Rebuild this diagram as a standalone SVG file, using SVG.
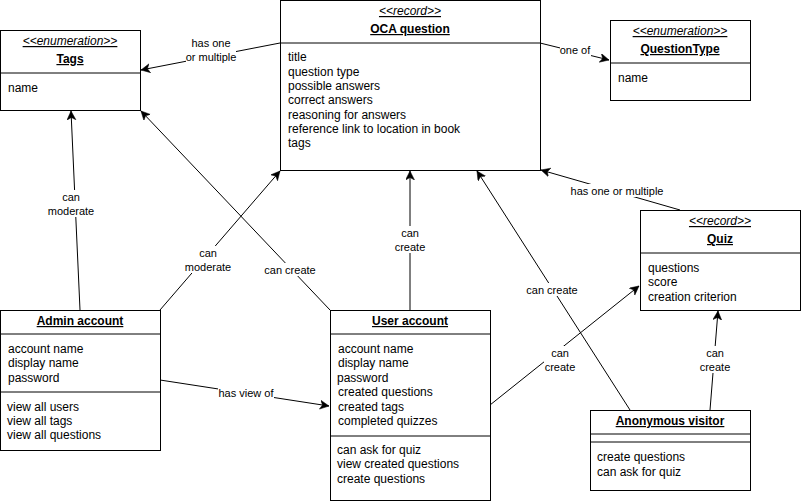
<svg xmlns="http://www.w3.org/2000/svg" width="801" height="501" viewBox="0 0 801 501">
  <style>
    text { font-family: "Liberation Sans", Arial, sans-serif; font-size: 12px; fill: #000; }
    .c { text-anchor: middle; }
    .lb { font-size: 11px; }
    .st { font-style: italic; text-decoration: underline; }
    .nm { font-weight: bold; text-decoration: underline; }
    .box { fill: #fff; stroke: #000; stroke-width: 1; }
    .div { stroke: #000; stroke-width: 1; }
    .edge { fill: none; stroke: #000; stroke-width: 1; }
    .lbg { fill: #fff; }
  </style>
  <defs>
    <marker id="arrow" markerUnits="userSpaceOnUse" markerWidth="12" markerHeight="12" refX="9" refY="4.5" orient="auto">
      <path d="M0,0 L9,4.5 L0,9 L2.5,4.5 Z" fill="#000" stroke="#000" stroke-width="0.5"/>
    </marker>
  </defs>

  <rect width="801" height="501" fill="#fff"/>

  <!-- connectors -->
  <g id="connectors">
    <line class="edge" x1="280" y1="43" x2="141" y2="70" marker-end="url(#arrow)"/>
    <line class="edge" x1="540" y1="43" x2="609" y2="60" marker-end="url(#arrow)"/>
    <line class="edge" x1="80" y1="310" x2="71" y2="111" marker-end="url(#arrow)"/>
    <line class="edge" x1="160" y1="310" x2="280" y2="171" marker-end="url(#arrow)"/>
    <line class="edge" x1="330" y1="310" x2="141" y2="111" marker-end="url(#arrow)"/>
    <line class="edge" x1="410" y1="310" x2="410" y2="171" marker-end="url(#arrow)"/>
    <line class="edge" x1="160" y1="380" x2="329" y2="406" marker-end="url(#arrow)"/>
    <line class="edge" x1="490" y1="405" x2="639" y2="286" marker-end="url(#arrow)"/>
    <line class="edge" x1="630" y1="410" x2="477" y2="171" marker-end="url(#arrow)"/>
    <line class="edge" x1="710" y1="410" x2="718" y2="311" marker-end="url(#arrow)"/>
    <line class="edge" x1="680" y1="210" x2="541" y2="170" marker-end="url(#arrow)"/>

    <!-- edge labels -->
    <rect class="lbg" x="186" y="37" width="50" height="27"/>
    <text class="c lb" x="211" y="47">has one</text>
    <text class="c lb" x="211" y="61">or multiple</text>

    <rect class="lbg" x="560" y="44" width="31" height="13"/>
    <text class="c lb" x="575" y="54">one of</text>

    <rect class="lbg" x="47" y="190" width="48" height="27"/>
    <text class="c lb" x="71" y="201">can</text>
    <text class="c lb" x="71" y="215">moderate</text>

    <rect class="lbg" x="184" y="246" width="48" height="27"/>
    <text class="c lb" x="208" y="257">can</text>
    <text class="c lb" x="208" y="271">moderate</text>

    <rect class="lbg" x="265" y="263" width="51" height="13"/>
    <text class="c lb" x="290" y="274">can create</text>

    <rect class="lbg" x="394" y="226" width="32" height="27"/>
    <text class="c lb" x="410" y="237">can</text>
    <text class="c lb" x="410" y="251">create</text>

    <rect class="lbg" x="218" y="387" width="56" height="13"/>
    <text class="c lb" x="246" y="397">has view of</text>

    <rect class="lbg" x="544" y="346" width="32" height="27"/>
    <text class="c lb" x="560" y="357">can</text>
    <text class="c lb" x="560" y="371">create</text>

    <rect class="lbg" x="527" y="283" width="51" height="13"/>
    <text class="c lb" x="552" y="294">can create</text>

    <rect class="lbg" x="699" y="346" width="32" height="27"/>
    <text class="c lb" x="715" y="357">can</text>
    <text class="c lb" x="715" y="371">create</text>

    <rect class="lbg" x="571" y="184" width="93" height="13"/>
    <text class="c lb" x="617" y="195">has one or multiple</text>
  </g>

  <!-- Tags -->
  <g id="tags">
    <rect class="box" x="0.5" y="30.5" width="140" height="80"/>
    <line class="div" x1="0.5" y1="73" x2="140.5" y2="73"/>
    <text class="c st" x="70" y="45">&lt;&lt;enumeration&gt;&gt;</text>
    <text class="c nm" x="70" y="63">Tags</text>
    <text x="8" y="92">name</text>
  </g>

  <!-- OCA question -->
  <g id="oca-question">
    <rect class="box" x="280.5" y="0.5" width="260" height="170"/>
    <line class="div" x1="280.5" y1="43" x2="540.5" y2="43"/>
    <text class="c st" x="410" y="15">&lt;&lt;record&gt;&gt;</text>
    <text class="c nm" x="410" y="33">OCA question</text>
    <text x="288" y="61">title</text>
    <text x="288" y="76">question type</text>
    <text x="288" y="90">possible answers</text>
    <text x="288" y="104">correct answers</text>
    <text x="288" y="119">reasoning for answers</text>
    <text x="288" y="133">reference link to location in book</text>
    <text x="288" y="147">tags</text>
  </g>

  <!-- QuestionType -->
  <g id="question-type">
    <rect class="box" x="610.5" y="20.5" width="140" height="80"/>
    <line class="div" x1="610.5" y1="63" x2="750.5" y2="63"/>
    <text class="c st" x="680" y="35">&lt;&lt;enumeration&gt;&gt;</text>
    <text class="c nm" x="680" y="53">QuestionType</text>
    <text x="618" y="82">name</text>
  </g>

  <!-- Quiz -->
  <g id="quiz">
    <rect class="box" x="640.5" y="210.5" width="160" height="100"/>
    <line class="div" x1="640.5" y1="253" x2="800.5" y2="253"/>
    <text class="c st" x="720" y="225">&lt;&lt;record&gt;&gt;</text>
    <text class="c nm" x="720" y="243">Quiz</text>
    <text x="648" y="272">questions</text>
    <text x="648" y="286">score</text>
    <text x="648" y="301">creation criterion</text>
  </g>

  <!-- Admin account -->
  <g id="admin-account">
    <rect class="box" x="0.5" y="310.5" width="160" height="140"/>
    <line class="div" x1="0.5" y1="334" x2="160.5" y2="334"/>
    <line class="div" x1="0.5" y1="392" x2="160.5" y2="392"/>
    <text class="c nm" x="80" y="325">Admin account</text>
    <text x="8" y="353">account name</text>
    <text x="8" y="367">display name</text>
    <text x="8" y="382">password</text>
    <text x="7" y="411">view all users</text>
    <text x="7" y="425">view all tags</text>
    <text x="7" y="439">view all questions</text>
  </g>

  <!-- User account -->
  <g id="user-account">
    <rect class="box" x="330.5" y="310.5" width="160" height="190"/>
    <line class="div" x1="330.5" y1="334" x2="490.5" y2="334"/>
    <line class="div" x1="330.5" y1="436" x2="490.5" y2="436"/>
    <text class="c nm" x="410" y="325">User account</text>
    <text x="338" y="353">account name</text>
    <text x="338" y="367">display name</text>
    <text x="337" y="382">password</text>
    <text x="338" y="396">created questions</text>
    <text x="338" y="411">created tags</text>
    <text x="338" y="425">completed quizzes</text>
    <text x="337" y="454">can ask for quiz</text>
    <text x="337" y="468">view created questions</text>
    <text x="337" y="483">create questions</text>
  </g>

  <!-- Anonymous visitor -->
  <g id="anonymous-visitor">
    <rect class="box" x="590.5" y="410.5" width="160" height="80"/>
    <line class="div" x1="590.5" y1="434" x2="750.5" y2="434"/>
    <line class="div" x1="590.5" y1="442" x2="750.5" y2="442"/>
    <text class="c nm" x="670" y="425">Anonymous visitor</text>
    <text x="597" y="461">create questions</text>
    <text x="597" y="476">can ask for quiz</text>
  </g>
</svg>
